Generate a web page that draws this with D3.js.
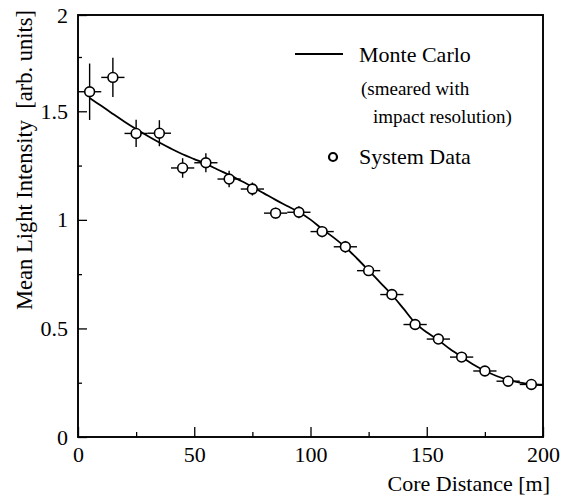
<!DOCTYPE html>
<html>
<head>
<meta charset="utf-8">
<script src="https://cdn.jsdelivr.net/npm/d3@7"></script>
<style>
  html, body { margin: 0; padding: 0; background: #fff; }
  svg { display: block; }
  text { font-family: "Liberation Serif", "Times New Roman", serif; fill: #000; }
</style>
</head>
<body>
<script>
// Measured light intensity per core-distance bin
const distance     = [5, 15, 25, 35, 45, 55, 65, 75, 85, 95, 105, 115, 125, 135, 145, 155, 165, 175, 185, 195];
const distanceErr  = [5, 5, 5, 5, 5, 5, 5, 5, 5, 5, 5, 5, 5, 5, 5, 5, 5, 5, 5, 5];
const intensity    = [1.590, 1.656, 1.398, 1.399, 1.239, 1.263, 1.188, 1.142, 1.031, 1.035,
                      0.946, 0.876, 0.766, 0.656, 0.518, 0.451, 0.368, 0.304, 0.257, 0.242];
const intensityErr = [0.130, 0.090, 0.063, 0.060, 0.045, 0.044, 0.038, 0.030, 0.025, 0.028,
                      0.026, 0.027, 0.023, 0.020, 0.017, 0.016, 0.015, 0.015, 0.013, 0.012];

// Simulated lateral distribution (smeared with impact resolution)
const mcDistance  = [5, 10, 15, 20, 25, 30, 35, 40, 45, 50, 55, 60, 65, 70, 75, 80, 85, 90, 95, 100,
                     105, 110, 115, 120, 125, 130, 135, 140, 145, 150, 155, 160, 165, 170, 175, 180, 185, 190, 195, 200];
const mcIntensity = [1.561, 1.525, 1.488, 1.452, 1.418, 1.386, 1.356, 1.328, 1.302, 1.280, 1.258, 1.232, 1.207, 1.180, 1.152,
                     1.122, 1.092, 1.064, 1.036, 1.001, 0.958, 0.918, 0.874, 0.822, 0.767, 0.711, 0.655, 0.591, 0.526,
                     0.482, 0.446, 0.405, 0.369, 0.334, 0.305, 0.281, 0.263, 0.250, 0.243, 0.239];

// Axis ticks
const xMajor = [0, 50, 100, 150, 200];
const xMinor = [25, 75, 125, 175];
const yMajor = [0, 0.5, 1, 1.5, 2];
const yMinor = [0.25, 0.75, 1.25, 1.75];

const W = 562, H = 498;
const plotLeft = 78, plotRight = 543, plotTop = 15, plotBottom = 437;

const svg = d3.select("body").append("svg").attr("width", W).attr("height", H);

const x = d3.scaleLinear().domain([0, 200]).range([plotLeft, plotRight]);
// frame top is drawn at the "2" label; below 1.75 the scale is linear
const y = d3.scaleLinear().domain([0, 1.75, 2]).range([plotBottom, 57, plotTop]);

const FS = 22;

// x axis: inward ticks
const gx = svg.append("g").attr("transform", `translate(0,${plotBottom})`);
gx.call(d3.axisBottom(x).tickValues(xMajor).tickSize(-10).tickPadding(9).tickFormat(d3.format("d")));
const gxm = svg.append("g").attr("transform", `translate(0,${plotBottom})`);
gxm.call(d3.axisBottom(x).tickValues(xMinor).tickSize(-5).tickFormat(""));

// y axis: inward ticks
const gy = svg.append("g").attr("transform", `translate(${plotLeft},0)`);
gy.call(d3.axisLeft(y).tickValues(yMajor).tickSize(-9).tickPadding(10)
  .tickFormat(d => (d % 1 === 0 ? d3.format("d")(d) : d3.format(".1f")(d))));
const gym = svg.append("g").attr("transform", `translate(${plotLeft},0)`);
gym.call(d3.axisLeft(y).tickValues(yMinor).tickSize(-4).tickFormat(""));

[gx, gxm, gy, gym].forEach(g => {
  g.select(".domain").remove();
  g.selectAll("line").attr("stroke", "#000").attr("stroke-width", 1.3);
  g.selectAll("text").style("font-family", '"Liberation Serif", serif').style("font-size", FS + "px").attr("fill", "#000");
});

// frame
svg.append("rect")
  .attr("x", plotLeft).attr("y", plotTop)
  .attr("width", plotRight - plotLeft).attr("height", plotBottom - plotTop)
  .attr("fill", "none").attr("stroke", "#000").attr("stroke-width", 1.9);

// axis titles
svg.append("text")
  .attr("x", 550).attr("y", 491)
  .attr("text-anchor", "end")
  .style("font-size", FS + "px")
  .text("Core Distance [m]");

svg.append("text")
  .attr("transform", `translate(32,160) rotate(-90)`)
  .attr("text-anchor", "middle")
  .style("font-size", "22.5px")
  .style("white-space", "pre")
  .text("Mean Light Intensity  [arb. units]");

// Monte Carlo curve
const line = d3.line()
  .x((d, i) => x(mcDistance[i]))
  .y((d, i) => y(mcIntensity[i]))
  .curve(d3.curveCatmullRom.alpha(0.5));

svg.append("path")
  .datum(mcDistance)
  .attr("d", line)
  .attr("fill", "none")
  .attr("stroke", "#000")
  .attr("stroke-width", 1.8);

// data points with error bars
const pts = svg.append("g");
distance.forEach((d, i) => {
  const g = pts.append("g");
  g.append("line")
    .attr("x1", x(d - distanceErr[i])).attr("x2", x(d + distanceErr[i]))
    .attr("y1", y(intensity[i])).attr("y2", y(intensity[i]))
    .attr("stroke", "#000").attr("stroke-width", 1.4);
  g.append("line")
    .attr("x1", x(d)).attr("x2", x(d))
    .attr("y1", y(intensity[i] - intensityErr[i])).attr("y2", y(intensity[i] + intensityErr[i]))
    .attr("stroke", "#000").attr("stroke-width", 1.4);
  g.append("circle")
    .attr("cx", x(d)).attr("cy", y(intensity[i]))
    .attr("r", 4.9)
    .attr("fill", "#fff").attr("stroke", "#000").attr("stroke-width", 1.6);
});

// legend
const lg = svg.append("g");
lg.append("line").attr("x1", 295).attr("x2", 343).attr("y1", 54).attr("y2", 54)
  .attr("stroke", "#000").attr("stroke-width", 1.9);
lg.append("text").attr("x", 359).attr("y", 62).style("font-size", FS + "px").text("Monte Carlo");
lg.append("text").attr("x", 361).attr("y", 95).style("font-size", "19px").text("(smeared with");
lg.append("text").attr("x", 373).attr("y", 123).style("font-size", "19px").text("impact resolution)");
lg.append("circle").attr("cx", 333).attr("cy", 157).attr("r", 4)
  .attr("fill", "#fff").attr("stroke", "#000").attr("stroke-width", 2.2);
lg.append("text").attr("x", 359).attr("y", 164).style("font-size", FS + "px").text("System Data");
</script>
</body>
</html>
